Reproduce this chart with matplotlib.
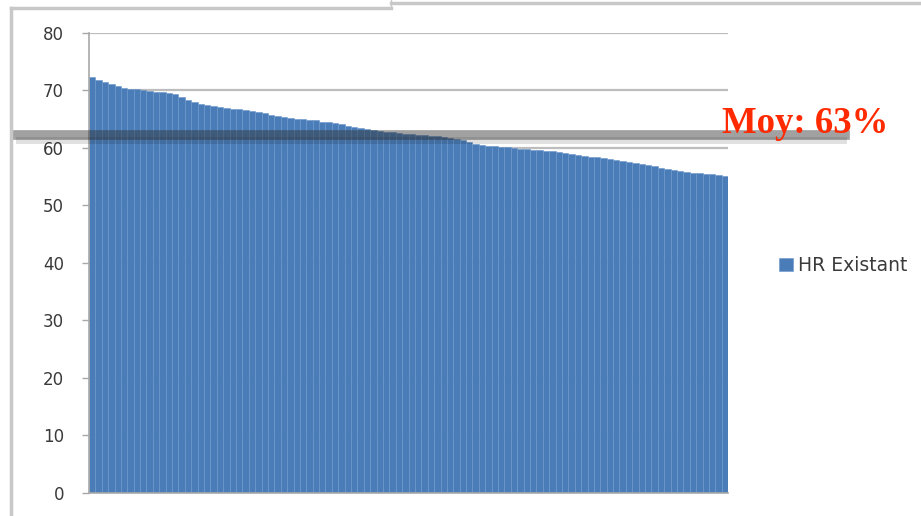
import numpy as np
import matplotlib.pyplot as plt
from matplotlib.lines import Line2D

# ------------------------------------------------
# Data (sorted descending)
# ------------------------------------------------
hr_existant = [
    72.3, 71.9, 71.5, 71.1, 70.8, 70.5, 70.3, 70.2, 70.0, 69.9,
    69.8, 69.7, 69.6, 69.3, 68.8, 68.3, 68.0, 67.7, 67.5, 67.3,
    67.1, 66.9, 66.8, 66.7, 66.6, 66.5, 66.3, 66.0, 65.7, 65.5,
    65.3, 65.2, 65.1, 65.0, 64.9, 64.8, 64.6, 64.5, 64.3, 64.1,
    63.9, 63.7, 63.5, 63.3, 63.1, 62.9, 62.8, 62.7, 62.6, 62.5,
    62.4, 62.3, 62.2, 62.1, 62.0, 61.9, 61.8, 61.6, 61.4, 61.0,
    60.7, 60.5, 60.4, 60.3, 60.2, 60.1, 60.0, 59.9, 59.8, 59.7,
    59.6, 59.5, 59.4, 59.3, 59.1, 58.9, 58.8, 58.6, 58.5, 58.4,
    58.2, 58.1, 57.9, 57.7, 57.6, 57.4, 57.2, 57.0, 56.8, 56.6,
    56.4, 56.2, 56.0, 55.8, 55.7, 55.6, 55.5, 55.4, 55.3, 55.2,
]
mean_line = 62.2
mean_label = "Moy: 63%"
series_name = "HR Existant"
y_ticks = [0, 10, 20, 30, 40, 50, 60, 70, 80]

# ------------------------------------------------
# Figure and axes
# ------------------------------------------------
fig = plt.figure(figsize=(9.21, 5.16), dpi=100)
ax = fig.add_axes([0.0966, 0.0446, 0.6940, 0.8915])

x = np.arange(len(hr_existant))
ax.bar(x, hr_existant, width=1.0, color="#4a7db8", edgecolor="#6a97cc",
       linewidth=0.4, label=series_name, zorder=2)

ax.set_xlim(-0.5, len(hr_existant) - 0.5)
ax.set_ylim(0, 80)
ax.set_yticks(y_ticks)
ax.set_xticks([])
ax.yaxis.grid(True, color="#bdbdbd", linewidth=1.6, zorder=0)
ax.set_axisbelow(True)

for side in ["top", "right"]:
    ax.spines[side].set_visible(False)
for side in ["left", "bottom"]:
    ax.spines[side].set_color("#a8a8a8")
    ax.spines[side].set_linewidth(1.2)

ax.tick_params(axis="y", length=5, width=1, color="#a8a8a8", pad=13,
               labelsize=12, labelcolor="#3a3a3a")

# ------------------------------------------------
# Legend
# ------------------------------------------------
fig.legend(loc="center left", bbox_to_anchor=(0.828, 0.486), frameon=False,
           fontsize=13.5, handlelength=0.7, handleheight=0.7,
           handletextpad=0.3, labelcolor="#3a3a3a")

# ------------------------------------------------
# Mean line overlay (drawn past the plot edges)
# ------------------------------------------------
ax.axhline(mean_line - 0.8, xmin=-0.11, xmax=1.18, color="#000000",
           alpha=0.12, linewidth=5, clip_on=False, zorder=4)
ax.axhline(mean_line, xmin=-0.116, xmax=1.183, color="#303030",
           alpha=0.45, linewidth=7, clip_on=False, zorder=5)

fig.text(0.784, 0.743, mean_label, color="#ff2a00", fontsize=26.5,
         fontweight="bold", family="Liberation Serif", va="baseline")

# ------------------------------------------------
# Slide frame lines
# ------------------------------------------------
frame_color = "#c8c8c8"
fig.add_artist(Line2D([0.012, 0.012], [0.0, 0.985], color=frame_color,
                      linewidth=2.5, transform=fig.transFigure))
fig.add_artist(Line2D([0.012, 0.424], [0.985, 0.985], color=frame_color,
                      linewidth=2.5, transform=fig.transFigure))
fig.add_artist(Line2D([0.424, 1.0], [0.995, 0.995], color=frame_color,
                      linewidth=2.5, transform=fig.transFigure))
fig.add_artist(Line2D([0.425, 0.425], [0.985, 1.0], color=frame_color,
                      linewidth=1.0, transform=fig.transFigure))

fig.savefig("out.png", dpi=100)
